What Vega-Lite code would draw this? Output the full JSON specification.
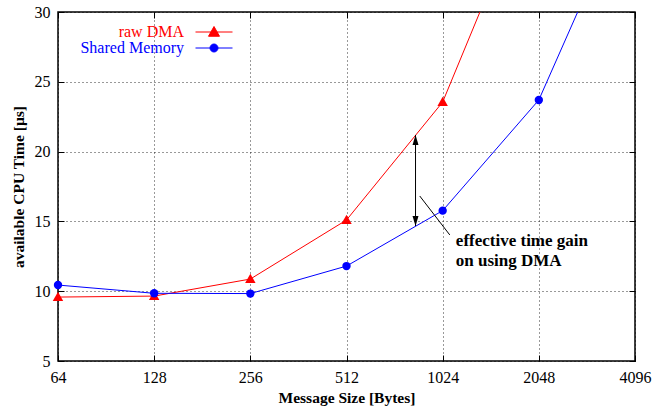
{
  "$schema": "https://vega.github.io/schema/vega-lite/v6.json",
  "autosize": "none",
  "width": 577,
  "height": 349,
  "padding": {"left": 58, "top": 12, "right": 31, "bottom": 47},
  "background": "white",
  "config": {
    "view": {"stroke": "black", "strokeWidth": 1.5},
    "font": "Liberation Serif",
    "axis": {
      "labelFont": "Liberation Serif",
      "labelFontSize": 16,
      "labelColor": "black",
      "titleFont": "Liberation Serif",
      "titleFontSize": 15.5,
      "titleFontWeight": "bold",
      "titleColor": "black",
      "domain": false,
      "tickColor": "black",
      "tickSize": -6,
      "gridColor": "black",
      "gridDash": [1, 3],
      "gridOpacity": 0.8,
      "gridWidth": 1
    }
  },
  "datasets": {
    "main": [
      {"series": "raw DMA", "size": 64, "time": 9.58},
      {"series": "raw DMA", "size": 128, "time": 9.65},
      {"series": "raw DMA", "size": 256, "time": 10.87},
      {"series": "raw DMA", "size": 512, "time": 15.1},
      {"series": "raw DMA", "size": 1024, "time": 23.55},
      {"series": "raw DMA", "size": 2048, "time": 40.2},
      {"series": "Shared Memory", "size": 64, "time": 10.44},
      {"series": "Shared Memory", "size": 128, "time": 9.85},
      {"series": "Shared Memory", "size": 256, "time": 9.83},
      {"series": "Shared Memory", "size": 512, "time": 11.8},
      {"series": "Shared Memory", "size": 1024, "time": 15.77},
      {"series": "Shared Memory", "size": 2048, "time": 23.7},
      {"series": "Shared Memory", "size": 4096, "time": 39.3}
    ],
    "arrow": [
      {"x": 842, "y1": 21.19, "y2": 14.67}
    ],
    "heads": [
      {"x": 842, "y": 21.19, "end": "top"},
      {"x": 842, "y": 14.67, "end": "bottom"}
    ],
    "leader": [
      {"x1": 868, "y1": 16.82, "x2": 1078, "y2": 14.03}
    ],
    "label": [
      {"x": 1126, "y": 13.6, "text": "effective time gain"},
      {"x": 1126, "y": 12.16, "text": "on using DMA"}
    ]
  },
  "resolve": {"axis": {"x": "independent", "y": "independent"}, "scale": {"shape": "independent"}},
  "layer": [
    {
      "data": {"name": "main"},
      "mark": {"type": "line", "clip": true, "strokeWidth": 1},
      "encoding": {
        "x": {
          "field": "size", "type": "quantitative",
          "scale": {"type": "log", "base": 2, "domain": [64, 4096], "nice": false},
          "axis": {"values": [64, 128, 256, 512, 1024, 2048, 4096], "format": "d", "title": "Message Size [Bytes]", "labelPadding": 14, "titleBaseline": "middle", "titleY": 36, "grid": true, "labelFlush": false}
        },
        "y": {
          "field": "time", "type": "quantitative",
          "scale": {"domain": [5, 30], "nice": false, "zero": false},
          "axis": {"values": [5, 10, 15, 20, 25, 30], "title": "available CPU Time [µs]", "labelPadding": 14, "titleX": -40, "titleBaseline": "middle", "grid": true}
        },
        "color": {
          "field": "series", "type": "nominal",
          "scale": {"domain": ["raw DMA", "Shared Memory"], "range": ["#ff0000", "#0000ff"]},
          "legend": {
            "title": null,
            "orient": "none",
            "legendX": 148,
            "legendY": 12,
            "padding": 0,
            "symbolSize": 100,
            "symbolStrokeWidth": 1,
            "labelFont": "Liberation Serif",
            "labelFontSize": 13,
            "labelAlign": "right",
            "labelBaseline": "middle",
            "labelOffset": -38,
            "rowPadding": 0,
            "encode": {
              "symbols": {"update": {
                "shape": {"signal": "datum.value === 'raw DMA' ? 'M-3.7,0H3.7M0,-1.1L1.1,0.85L-1.1,0.85Z' : 'M-3.7,0H3.7M-0.8,0A0.8,0.8 0 1,0 0.8,0A0.8,0.8 0 1,0 -0.8,0Z'"},
                "fill": {"signal": "datum.value === 'raw DMA' ? '#ff0000' : '#0000ff'"},
                "stroke": {"signal": "datum.value === 'raw DMA' ? '#ff0000' : '#0000ff'"},
                "strokeWidth": {"value": 1},
                "opacity": {"value": 1}
              }},
              "labels": {"update": {
                "fill": {"signal": "datum.value === 'raw DMA' ? '#ff0000' : '#0000ff'"},
                "fontSize": {"value": 16}
              }}
            }
          }
        },
        "detail": {"field": "series"}
      }
    },
    {
      "data": {"name": "main"},
      "transform": [{"filter": "datum.time <= 30"}],
      "mark": {"type": "point", "filled": true, "opacity": 1, "clip": false, "size": 70},
      "encoding": {
        "x": {"field": "size", "type": "quantitative", "axis": null},
        "y": {"field": "time", "type": "quantitative", "axis": null},
        "color": {"field": "series", "type": "nominal"},
        "shape": {
          "field": "series", "type": "nominal",
          "scale": {"domain": ["raw DMA", "Shared Memory"], "range": ["M0,-1.25L1.25,0.95L-1.25,0.95Z", "circle"]},
          "legend": null
        }
      }
    },
    {
      "data": {"name": "arrow"},
      "mark": {"type": "rule", "color": "black", "strokeWidth": 1},
      "encoding": {
        "x": {"field": "x", "type": "quantitative", "axis": {"orient": "top", "labels": false, "grid": false, "title": null, "values": [64, 128, 256, 512, 1024, 2048, 4096]}},
        "y": {"field": "y1", "type": "quantitative", "axis": {"orient": "right", "labels": false, "grid": false, "title": null, "values": [5, 10, 15, 20, 25, 30]}},
        "y2": {"field": "y2"}
      }
    },
    {
      "data": {"name": "heads"},
      "mark": {"type": "point", "filled": true, "opacity": 1, "color": "black", "size": 100},
      "encoding": {
        "x": {"field": "x", "type": "quantitative", "axis": null},
        "y": {"field": "y", "type": "quantitative", "axis": null},
        "shape": {
          "field": "end", "type": "nominal",
          "scale": {"domain": ["top", "bottom"], "range": ["M0,0L0.6,2L-0.6,2Z", "M0,0L0.6,-2L-0.6,-2Z"]},
          "legend": null
        }
      }
    },
    {
      "data": {"name": "leader"},
      "mark": {"type": "rule", "color": "black", "strokeWidth": 1},
      "encoding": {
        "x": {"field": "x1", "type": "quantitative", "axis": null},
        "x2": {"field": "x2"},
        "y": {"field": "y1", "type": "quantitative", "axis": null},
        "y2": {"field": "y2"}
      }
    },
    {
      "data": {"name": "label"},
      "mark": {"type": "text", "align": "left", "baseline": "middle", "font": "Liberation Serif", "fontSize": 17, "fontWeight": "bold", "color": "black"},
      "encoding": {
        "x": {"field": "x", "type": "quantitative", "axis": null},
        "y": {"field": "y", "type": "quantitative", "axis": null},
        "text": {"field": "text"}
      }
    }
  ]
}
